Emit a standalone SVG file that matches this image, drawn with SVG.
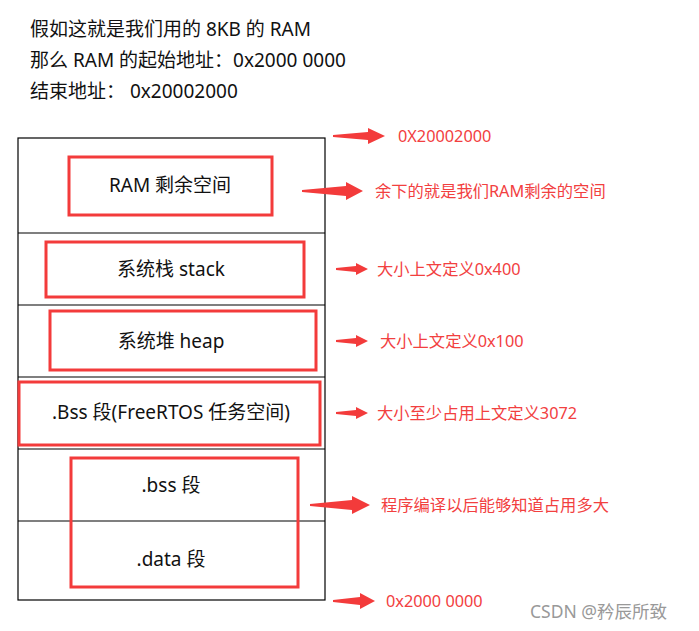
<svg xmlns="http://www.w3.org/2000/svg" width="699" height="631" viewBox="0 0 699 631">
<style>
text{font-family:"Noto Sans","Noto Sans CJK SC",sans-serif}
.h{font-size:19px;fill:#111}
.n{font-size:19px;fill:#111;text-anchor:middle}
.r{font-size:16.3px;fill:#f2403f}
.box{fill:none;stroke:#f33b3b;stroke-width:3}
.a{fill:#f33b3b}
</style>
<rect width="699" height="631" fill="#fff"/>
<text class="h" x="30" y="36">假如这就是我们用的 8KB 的 RAM</text>
<text class="h" x="30" y="67">那么 RAM 的起始地址：0x2000 0000</text>
<text class="h" x="30" y="98">结束地址：  0x20002000</text>
<g id="memory" fill="none" stroke="#000" stroke-width="1.2">
<rect x="18" y="138" width="307" height="462"/>
<line x1="18" y1="233" x2="325" y2="233"/><line x1="18" y1="305" x2="325" y2="305"/>
<line x1="18" y1="377" x2="325" y2="377"/><line x1="18" y1="449" x2="325" y2="449"/>
<line x1="18" y1="521" x2="325" y2="521"/>
</g>
<g id="ram"><rect class="box" x="69" y="157" width="203" height="58"/><text class="n" x="170" y="192">RAM 剩余空间</text></g>
<g id="stack"><rect class="box" x="46" y="242" width="258" height="55"/><text class="n" x="171" y="276">系统栈 stack</text></g>
<g id="heap"><rect class="box" x="50" y="311" width="266" height="59"/><text class="n" x="171" y="348">系统堆 heap</text></g>
<g id="bssfree"><rect class="box" x="19" y="382" width="301" height="63"/><text class="n" x="171" y="419">.Bss 段(FreeRTOS 任务空间)</text></g>
<g id="bssdata"><rect class="box" x="71" y="458" width="227" height="129"/><text class="n" x="171" y="492">.bss  段</text><text class="n" x="171" y="566">.data  段</text></g>
<g id="connectors">
<polygon class="a" points="333,135 368,132 368,128 385,136 368,144 368,140 333,137"/>
<polygon class="a" points="302,190 346,186 346,182 363,191 346,200 346,196 302,192"/>
<polygon class="a" points="336,268 356,266 356,263 368,269 356,275 356,272 336,270"/>
<polygon class="a" points="336,340 356,338 356,335 368,341 356,347 356,344 336,342"/>
<polygon class="a" points="336,412 356,410 356,407 368,413 356,419 356,416 336,414"/>
<polygon class="a" points="310,504 352,500 352,496 370,505 352,514 352,510 310,506"/>
<polygon class="a" points="333,600 360,597 360,593 375,601 360,609 360,605 333,602"/>
</g>
<g id="labels">
<text class="r" x="398" y="142">0X20002000</text>
<text class="r" x="375" y="197">余下的就是我们RAM剩余的空间</text>
<text class="r" x="377" y="275">大小上文定义0x400</text>
<text class="r" x="380" y="347">大小上文定义0x100</text>
<text class="r" x="377" y="419">大小至少占用上文定义3072</text>
<text class="r" x="381" y="511">程序编译以后能够知道占用多大</text>
<text class="r" x="386" y="607">0x2000 0000</text>
</g>
<text x="530" y="618" style="font-size:17.5px;fill:#999">CSDN @矜辰所致</text>
</svg>
